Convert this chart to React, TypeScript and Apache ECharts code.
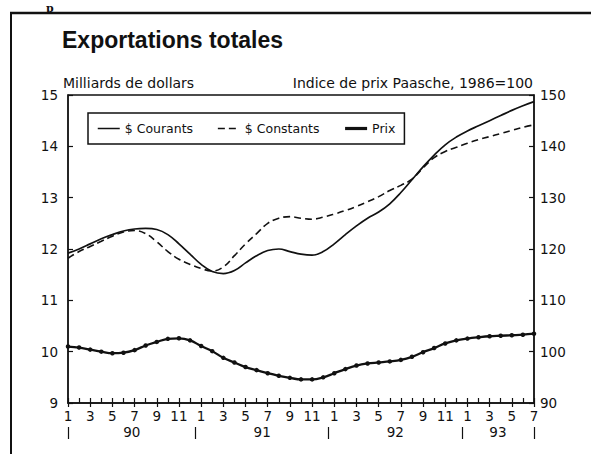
import React, { useEffect, useRef } from 'react';
import * as echarts from 'echarts';

// Categories: monthly, January 1990 to July 1993
const startMonth = 1;
const monthCount = 43;
const months: string[] = Array.from({ length: monthCount }, (_, i) => String(((startMonth - 1 + i) % 12) + 1));
const years = ['90', '91', '92', '93'];

// Series values (left axis: billions of dollars; right axis: Paasche price index)
const courants = [
  11.92, 12.0, 12.1, 12.2, 12.28, 12.35, 12.39, 12.4, 12.38, 12.28,
  12.1, 11.9, 11.7, 11.56, 11.52, 11.58, 11.73, 11.87, 11.97, 12.0,
  11.95, 11.9, 11.88, 11.95, 12.1, 12.28, 12.45, 12.6, 12.72, 12.88,
  13.1, 13.35, 13.6, 13.83, 14.03, 14.18, 14.3, 14.4, 14.5, 14.6,
  14.7, 14.79, 14.87,
];
const constants = [
  11.82, 11.95, 12.05, 12.15, 12.25, 12.33, 12.36, 12.3, 12.14, 11.95,
  11.8, 11.7, 11.62, 11.57, 11.65, 11.87, 12.1, 12.3, 12.5, 12.6,
  12.63, 12.6, 12.58, 12.62, 12.68, 12.75, 12.83, 12.92, 13.02, 13.14,
  13.24, 13.36, 13.58, 13.78, 13.9, 13.98, 14.06, 14.13, 14.19, 14.25,
  14.31, 14.37, 14.42,
];
const prix = [
  101.0, 100.8, 100.4, 100.0, 99.7, 99.8, 100.3, 101.2, 101.9, 102.5,
  102.6, 102.2, 101.1, 100.1, 98.8, 97.9, 97.0, 96.4, 95.8, 95.3,
  94.9, 94.6, 94.6, 95.0, 95.8, 96.6, 97.3, 97.7, 97.9, 98.1,
  98.4, 99.0, 99.9, 100.7, 101.6, 102.2, 102.55, 102.8, 103.0, 103.1,
  103.2, 103.3, 103.5,
];

// Axis ranges
const leftMin = 9, leftMax = 15, leftStep = 1;
const rightMin = 90, rightMax = 150, rightStep = 10;

// Year band axis: quarter-month steps so that year boundaries (between Dec and Jan) fall on ticks
const sub = 4;
const yearBoundaries: number[] = [0];
months.forEach((m, i) => { if (i > 0 && m === '1') yearBoundaries.push(i * sub - sub / 2); });
yearBoundaries.push((monthCount - 1) * sub);
const yearCats: string[] = Array.from({ length: (monthCount - 1) * sub + 1 }, () => '');
years.forEach((y, k) => {
  const c = Math.round((yearBoundaries[k] + yearBoundaries[k + 1]) / 2);
  yearCats[c] = y;
});

const INK = '#111';
const SMALL_FONT = 'DejaVu Sans';

export default function App() {
  const ref = useRef<HTMLDivElement>(null);
  useEffect(() => {
    if (!ref.current) return;
    const chart = echarts.init(ref.current, undefined, { renderer: 'svg' });
    const tickText = { color: INK, fontSize: 13.5, fontFamily: SMALL_FONT };
    chart.setOption({
      animation: false,
      backgroundColor: '#fff',
      title: {
        text: 'Exportations totales',
        left: 62,
        top: 28,
        padding: 0,
        textStyle: { fontSize: 23, fontWeight: 'bold', fontFamily: 'Liberation Sans', color: INK },
      },
      legend: {
        left: 88,
        top: 113,
        padding: [9, 9],
        itemWidth: 22,
        itemHeight: 14,
        itemGap: 24,
        borderColor: INK,
        borderWidth: 1.5,
        selectedMode: false,
        itemStyle: { opacity: 0 },
        textStyle: { color: INK, fontSize: 12.5, fontFamily: SMALL_FONT },
        data: [
          { name: '$ Courants', lineStyle: { width: 1.5 } },
          { name: '$ Constants', lineStyle: { width: 1.5 } },
          { name: 'Prix', lineStyle: { width: 3.2 } },
        ],
      },
      grid: {
        left: 68,
        top: 95,
        width: 466,
        height: 308,
        show: true,
        borderColor: INK,
        borderWidth: 1.3,
        backgroundColor: 'transparent',
      },
      xAxis: [
        {
          type: 'category',
          data: months,
          boundaryGap: false,
          position: 'bottom',
          axisLine: { show: true, lineStyle: { color: INK, width: 1.5 } },
          axisTick: { show: true, inside: true, interval: 0, length: 5, lineStyle: { color: INK, width: 1.2 } },
          axisLabel: { interval: 1, margin: 6, ...tickText },
          splitLine: { show: false },
        },
        {
          type: 'category',
          data: months,
          boundaryGap: false,
          position: 'bottom',
          axisLine: { show: false },
          axisTick: { show: true, inside: false, interval: 1, length: 4, lineStyle: { color: INK, width: 1.2 } },
          axisLabel: { show: false },
          splitLine: { show: false },
        },
        {
          type: 'category',
          data: yearCats,
          boundaryGap: false,
          position: 'bottom',
          offset: 24,
          axisLine: { show: false },
          axisTick: {
            show: true,
            inside: false,
            length: 12,
            interval: (index: number) => yearBoundaries.includes(index),
            lineStyle: { color: INK, width: 1.2 },
          },
          axisLabel: {
            interval: (_index: number, value: string) => value !== '',
            margin: -2,
            ...tickText,
          },
          splitLine: { show: false },
        },
      ],
      yAxis: [
        {
          type: 'value',
          min: leftMin,
          max: leftMax,
          interval: leftStep,
          position: 'left',
          axisLine: { show: true, lineStyle: { color: INK, width: 1.5 } },
          axisTick: { show: true, inside: true, length: 5, lineStyle: { color: INK, width: 1.2 } },
          axisLabel: { margin: 10, ...tickText },
          splitLine: { show: false },
        },
        {
          type: 'value',
          min: rightMin,
          max: rightMax,
          interval: rightStep,
          position: 'right',
          axisLine: { show: true, lineStyle: { color: INK, width: 1.5 } },
          axisTick: { show: true, inside: true, length: 5, lineStyle: { color: INK, width: 1.2 } },
          axisLabel: { margin: 6, ...tickText },
          splitLine: { show: false },
        },
      ],
      series: [
        {
          name: '$ Courants',
          type: 'line',
          xAxisIndex: 0,
          yAxisIndex: 0,
          data: courants,
          smooth: 0.4,
          symbol: 'none',
          color: INK,
          lineStyle: { color: INK, width: 1.7 },
        },
        {
          name: '$ Constants',
          type: 'line',
          xAxisIndex: 0,
          yAxisIndex: 0,
          data: constants,
          smooth: 0.4,
          symbol: 'none',
          color: INK,
          lineStyle: { color: INK, width: 1.6, type: [7, 4] },
        },
        {
          name: 'Prix',
          type: 'line',
          xAxisIndex: 0,
          yAxisIndex: 1,
          data: prix,
          smooth: 0.4,
          symbol: 'circle',
          symbolSize: 4.5,
          color: INK,
          itemStyle: { color: INK },
          lineStyle: { color: INK, width: 2.3 },
        },
      ],
      graphic: [
        {
          type: 'line',
          shape: { x1: 10, y1: 13, x2: 591, y2: 13 },
          style: { stroke: INK, lineWidth: 2.5 },
        },
        {
          type: 'line',
          shape: { x1: 11, y1: 12, x2: 11, y2: 454 },
          style: { stroke: INK, lineWidth: 2 },
        },
        {
          type: 'text',
          x: 46,
          y: 2,
          style: {
            text: 'p',
            font: 'bold 11px "DejaVu Serif"',
            lineHeight: 12,
            fill: INK,
            textVerticalAlign: 'top',
          },
        },
        {
          type: 'text',
          x: 63,
          y: 83,
          style: {
            text: 'Milliards de dollars',
            fill: INK,
            font: `14px "${SMALL_FONT}"`,
            textAlign: 'left',
            textVerticalAlign: 'middle',
          },
        },
        {
          type: 'text',
          x: 533,
          y: 83,
          style: {
            text: 'Indice de prix Paasche, 1986=100',
            fill: INK,
            font: `14px "${SMALL_FONT}"`,
            textAlign: 'right',
            textVerticalAlign: 'middle',
          },
        },
      ],
    });
    return () => chart.dispose();
  }, []);
  return (
    <div
      ref={ref}
      style={{ position: 'absolute', left: 0, top: 0, width: 591, height: 454, background: '#fff' }}
    />
  );
}
